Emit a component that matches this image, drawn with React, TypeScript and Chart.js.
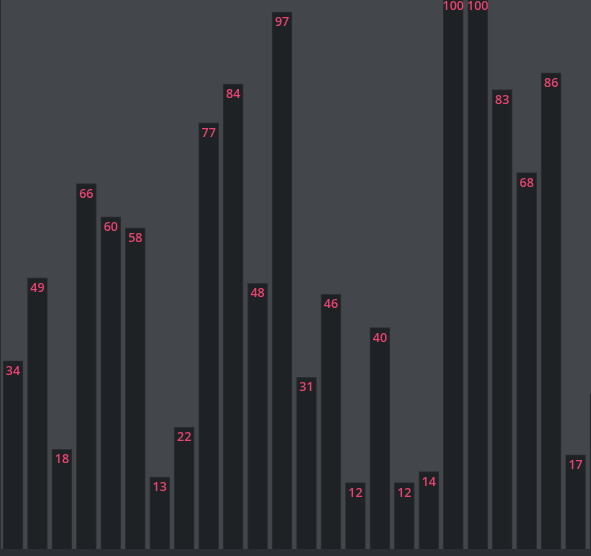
import React, { useEffect, useRef } from "react";
import { Chart, registerables } from "chart.js";

Chart.register(...registerables);

const values: number[] = [34, 49, 18, 66, 60, 58, 13, 22, 77, 84, 48, 97, 31, 46, 12, 40, 12, 14, 100, 100, 83, 68, 86, 17, 28];
const positions: number[] = values.map((_, i) => i);

const BG = "#43474b";
const BAR = "#1f2225";
const BAR_BORDER = "#2a2d31";
const LABEL = "#e8446f";

const bgPlugin = {
  id: "bgPlugin",
  beforeDraw(chart: any) {
    const { ctx, chartArea, width, height } = chart;
    ctx.save();
    ctx.fillStyle = "#2b2e32";
    ctx.fillRect(0, 0, width, height);
    ctx.fillStyle = BG;
    ctx.fillRect(chartArea.left, chartArea.top, chartArea.right - chartArea.left, chartArea.bottom - chartArea.top);
    ctx.fillStyle = "#2b2e32";
    ctx.fillRect(0, 0, 1, height);
    ctx.restore();
  },
};

const labelPlugin = {
  id: "labelPlugin",
  afterDatasetsDraw(chart: any) {
    const { ctx } = chart;
    const meta = chart.getDatasetMeta(0);
    ctx.save();
    ctx.font = "600 12.5px 'Open Sans', sans-serif";
    ctx.fillStyle = LABEL;
    ctx.textAlign = "center";
    ctx.textBaseline = "middle";
    meta.data.forEach((el: any, i: number) => {
      ctx.fillText(String(values[i]), el.x, Math.max(el.y, -4) + 10.5);
    });
    ctx.restore();
  },
};

export default function App() {
  const ref = useRef<HTMLCanvasElement | null>(null);
  useEffect(() => {
    document.body.style.margin = "0";
    const canvas = ref.current!;
    const chart = new Chart(canvas, {
      type: "bar",
      data: {
        datasets: [
          {
            data: values.map((v, i) => ({ x: positions[i], y: v })),
            backgroundColor: BAR,
            borderColor: BAR_BORDER,
            borderWidth: 1,
            barThickness: 20,
          },
        ],
      },
      options: {
        responsive: false,
        animation: false,
        layout: { padding: { left: 0, right: 0, top: 0, bottom: 7 } },
        plugins: { legend: { display: false }, tooltip: { enabled: false } },
        scales: {
          x: { type: "linear", display: false, offset: false, min: -0.531, max: 23.63 },
          y: { display: false, min: 0, max: 99.17 },
        },
      },
      plugins: [bgPlugin, labelPlugin],
    } as any);
    return () => chart.destroy();
  }, []);
  return <canvas ref={ref} width={591} height={556} style={{ display: "block" }} />;
}
